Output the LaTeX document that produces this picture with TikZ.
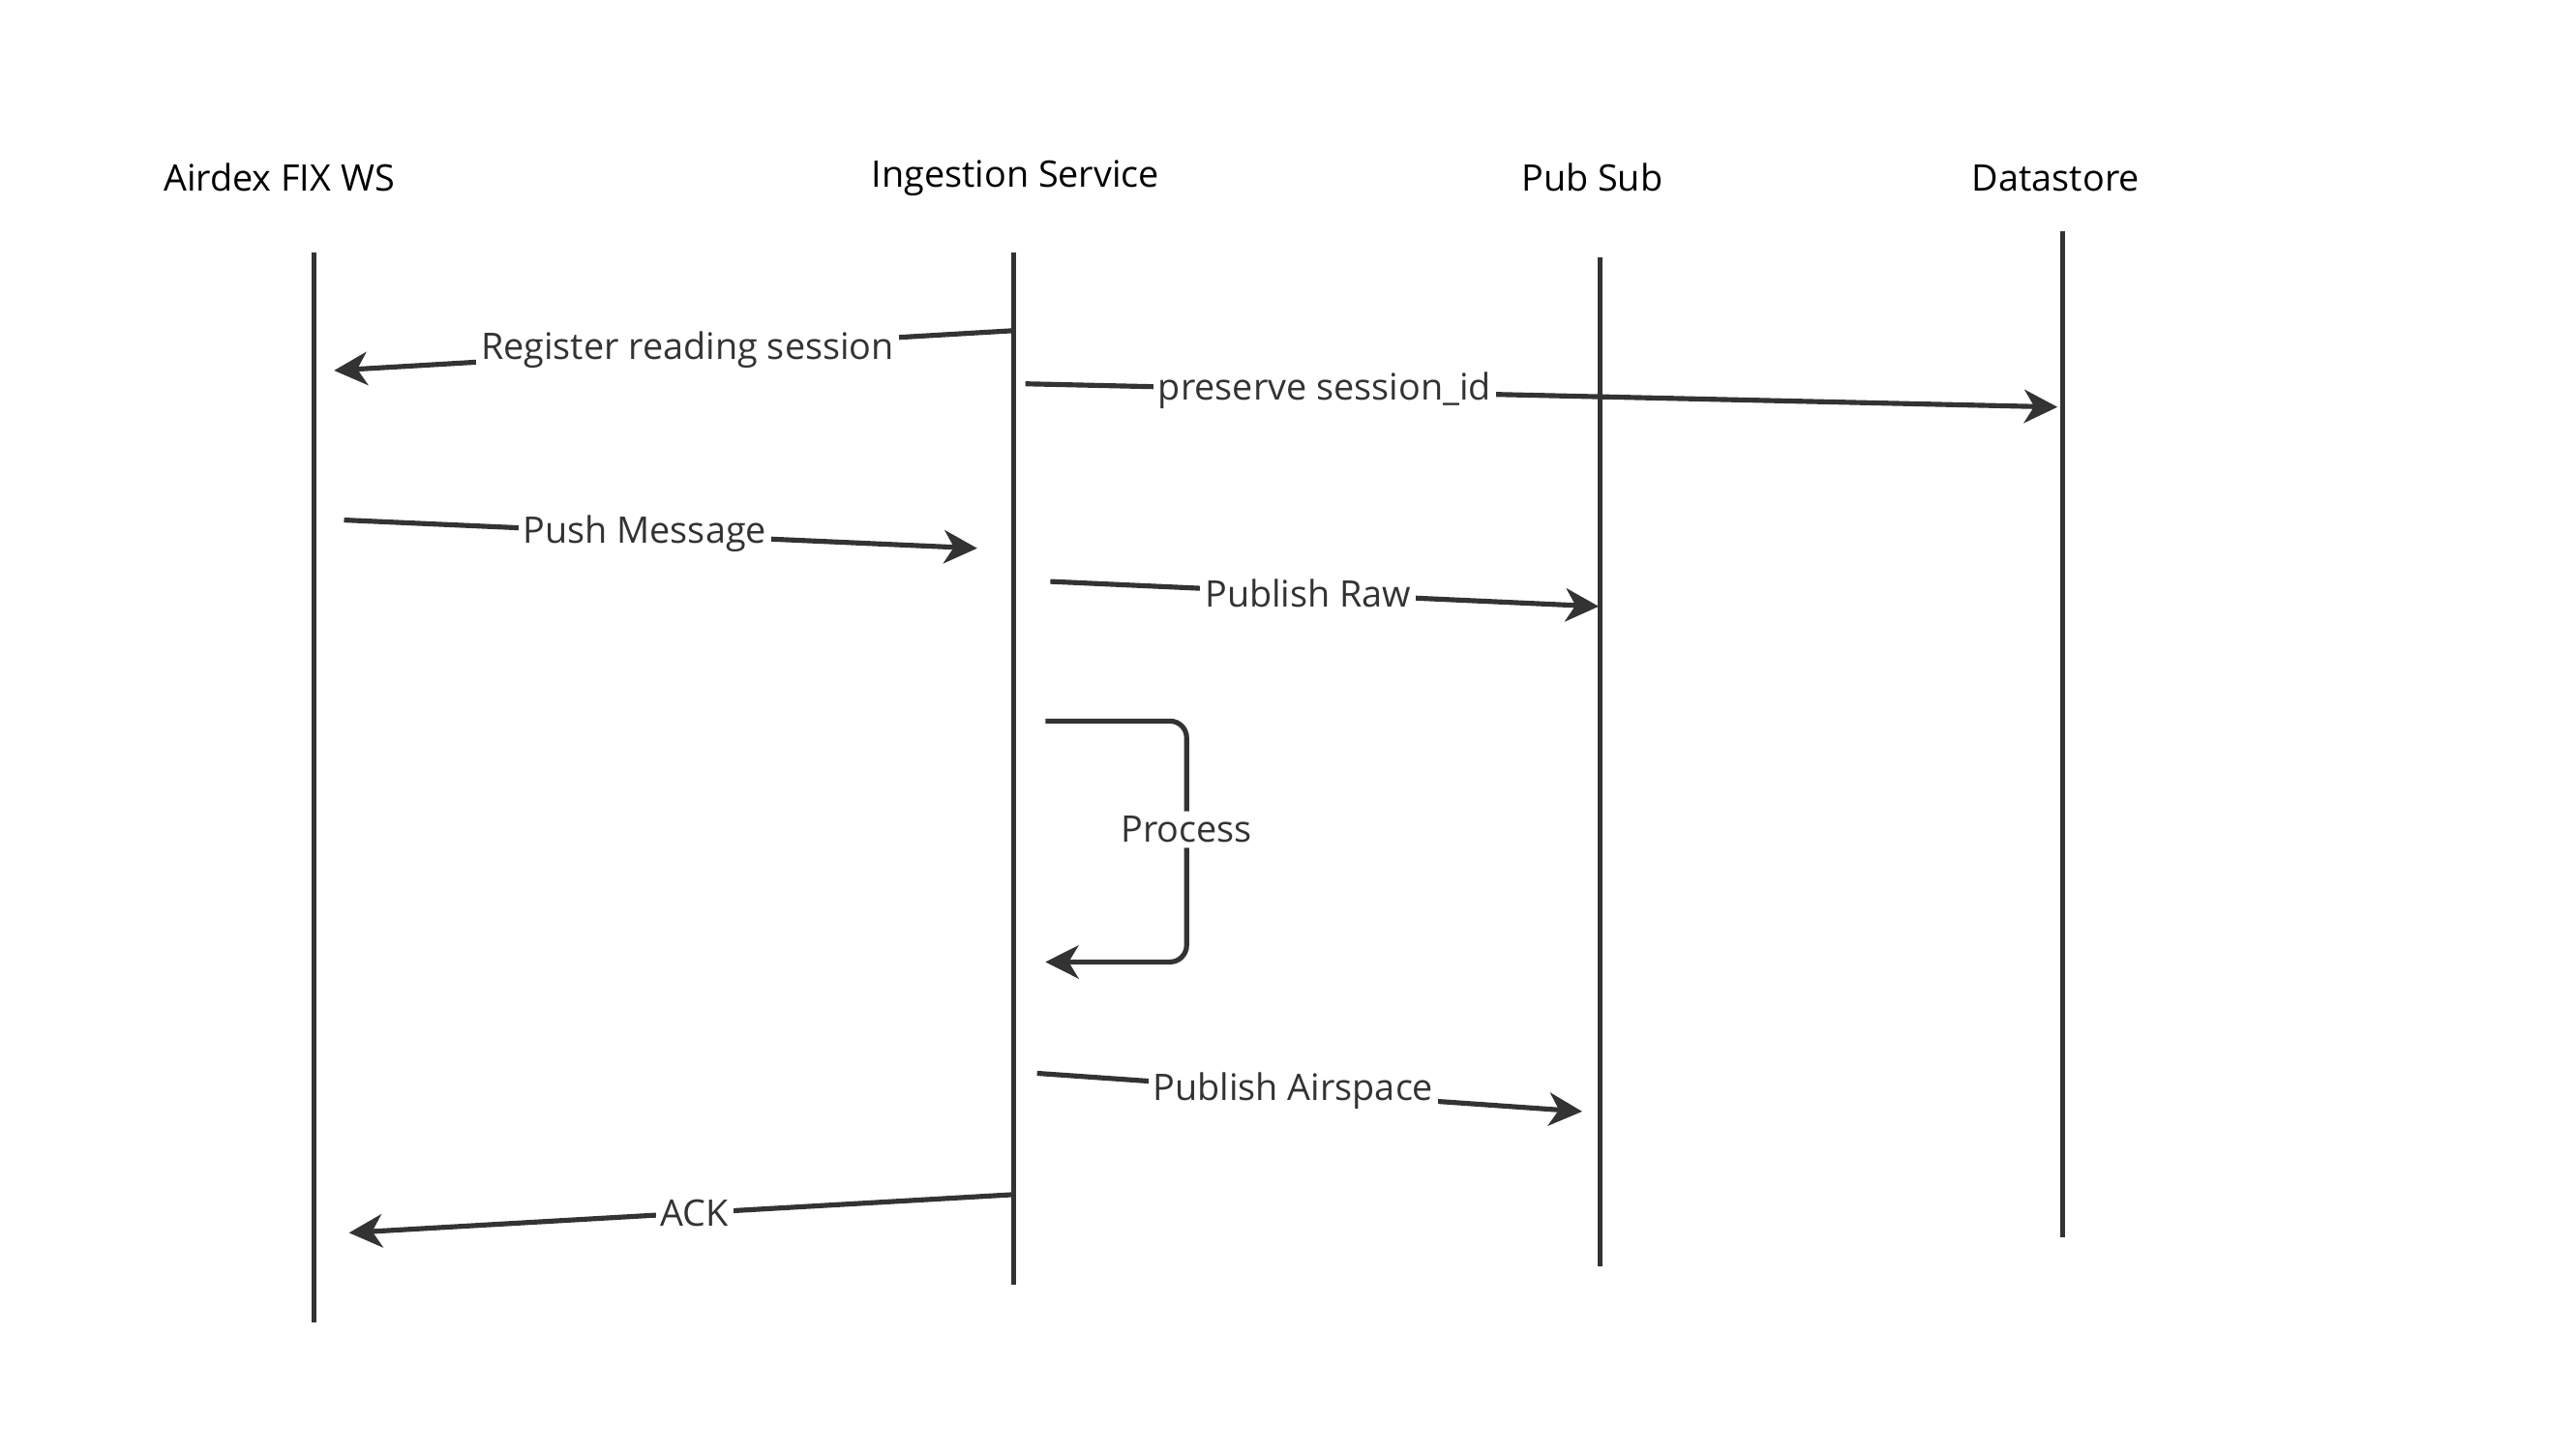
\documentclass[tikz,border=0pt]{standalone}
\usepackage{fontspec}
\setmainfont{Open Sans}
\usetikzlibrary{arrows.meta}
\definecolor{ink}{HTML}{333333}
\begin{document}
\begin{tikzpicture}[x=1pt,y=-1pt,
  life/.style={line width=3pt,draw=ink},
  msg/.style={line width=3pt,draw=ink,-{Stealth[length=20pt,width=20pt,inset=6pt]}},
  lbl/.style={fill=white,inner sep=3pt,text=ink,font=\fontsize{22}{26}\selectfont},
  head/.style={text=black,font=\fontsize{22}{26}\selectfont}]
\useasboundingbox[fill=white] (0,0) rectangle (1550,875);
\node[head] (h1) at (168,107) {Airdex FIX WS};
\node[head] (h2) at (611,107) {Ingestion Service};
\node[head] (h3) at (958,107) {Pub Sub};
\node[head] (h4) at (1237,107) {Datastore};
\coordinate (l1a) at (189,152); \coordinate (l1b) at (189,796);
\coordinate (l2a) at (610,152); \coordinate (l2b) at (610,773);
\coordinate (l3a) at (963,155); \coordinate (l3b) at (963,762);
\coordinate (l4a) at (1241,139); \coordinate (l4b) at (1241,745);
\draw[life] (l1a)--(l1b); \draw[life] (l2a)--(l2b);
\draw[life] (l3a)--(l3b); \draw[life] (l4a)--(l4b);
\coordinate (a1) at (610,199); \coordinate (b1) at (201,223);
\coordinate (a2) at (617,231); \coordinate (b2) at (1238,245);
\coordinate (a3) at (207,313); \coordinate (b3) at (588,330);
\coordinate (a4) at (632,350); \coordinate (b4) at (962,365);
\coordinate (a5) at (629,434); \coordinate (b5) at (629,579);
\coordinate (a6) at (624,646); \coordinate (b6) at (952,669);
\coordinate (a7) at (610,719); \coordinate (b7) at (210,742);
\draw[msg] (a1) -- node[lbl,pos=0.48] {Register reading session} (b1);
\draw[msg] (a2) -- node[lbl,pos=0.29] {preserve session\_id} (b2);
\draw[msg] (a3) -- node[lbl,pos=0.475] {Push Message} (b3);
\draw[msg] (a4) -- node[lbl,pos=0.47] {Publish Raw} (b4);
\draw[msg,rounded corners=10pt] (a5) -- (714,434) -- node[lbl,pos=0.45] {Process} (714,579) -- (b5);
\draw[msg] (a6) -- node[lbl,pos=0.47] {Publish Airspace} (b6);
\draw[msg] (a7) -- node[lbl,pos=0.48] {ACK} (b7);
\end{tikzpicture}
\end{document}
